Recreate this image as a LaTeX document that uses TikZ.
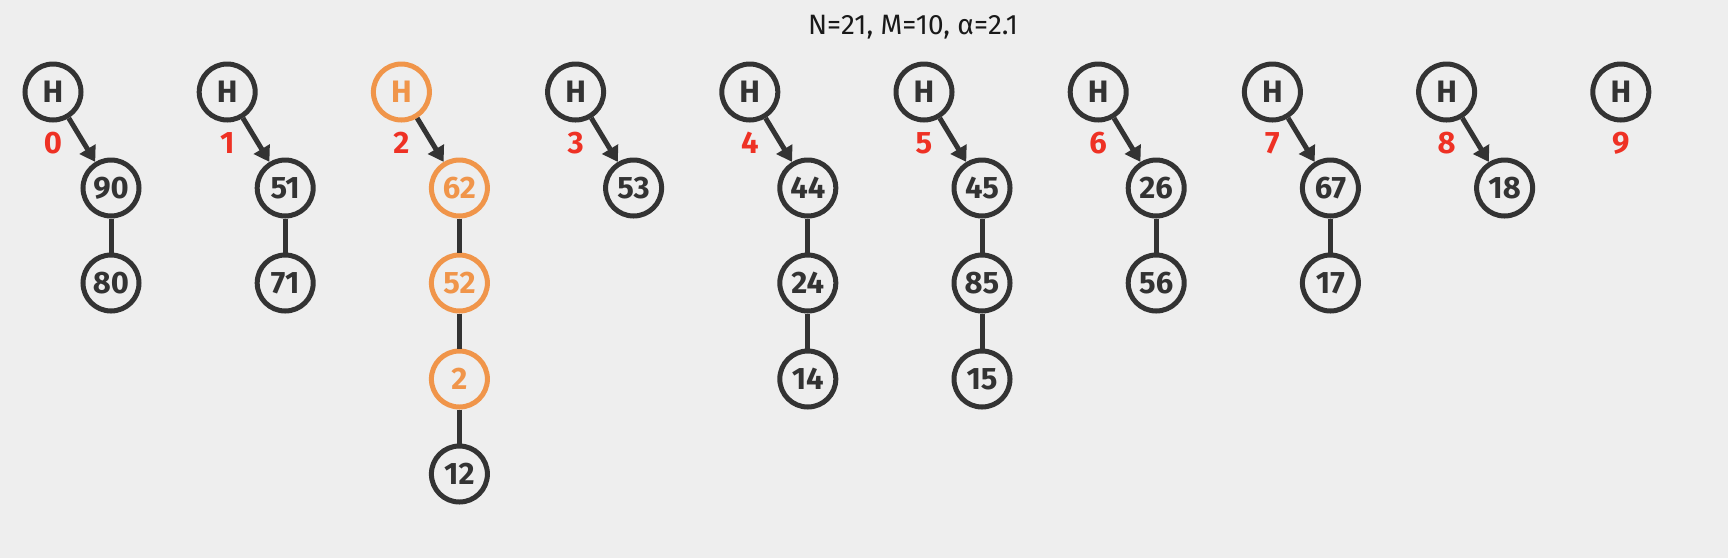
\documentclass[tikz,border=0pt]{standalone}
\usepackage{fontspec}
\setmainfont{Fira Sans}
\usetikzlibrary{positioning, arrows.meta}
\definecolor{ink}{HTML}{333333}
\definecolor{hotc}{HTML}{F0954A}
\definecolor{idxc}{HTML}{EE3124}
\definecolor{bgc}{HTML}{EEEEEE}

\tikzset{
    key/.style={circle, draw=ink, line width=5pt, minimum size=56pt, inner sep=0pt,
        text=ink, font=\fontsize{31}{32}\selectfont\bfseries},
    visited/.style={draw=hotc, text=hotc},
    plain/.style={},
    slot/.style={text=idxc, font=\fontsize{31}{32}\selectfont\bfseries},
    link/.style={draw=ink, line width=5pt},
    ptr/.style={link, -{Triangle[length=15pt, width=18pt]}}
}

\begin{document}
\begin{tikzpicture}[x=1pt, y=-1pt]
    \useasboundingbox[fill=bgc] (0, 0) rectangle (1728, 558);
    \node[font=\fontsize{28}{29}\selectfont, text=black!90] (title) at (913, 27) {N=21, M=10, α=2.1};

    % bucket heads and their indices
    \foreach \i/\look in {0/plain,1/plain,2/visited,3/plain,4/plain,5/plain,6/plain,7/plain,8/plain,9/plain} {
        \node[key, \look] (h\i) at (53 + 174.2*\i, 92) {H};
        \node[slot] (s\i) at (53 + 174.2*\i, 143) {\i};
    }

    % bucket 0
    \node[key] (b0a) at (111, 188) {90};
    \node[key] (b0b) at (111, 283) {80};
    \draw[ptr] (h0) to (b0a);
    \draw[link] (b0a) to (b0b);

    % bucket 1
    \node[key] (b1a) at (285.2, 188) {51};
    \node[key] (b1b) at (285.2, 283) {71};
    \draw[ptr] (h1) to (b1a);
    \draw[link] (b1a) to (b1b);

    % bucket 2
    \node[key, visited] (b2a) at (459.4, 188) {62};
    \node[key, visited] (b2b) at (459.4, 283) {52};
    \node[key, visited] (b2c) at (459.4, 379) {2};
    \node[key] (b2d) at (459.4, 474) {12};
    \draw[ptr] (h2) to (b2a);
    \draw[link] (b2a) to (b2b);
    \draw[link] (b2b) to (b2c);
    \draw[link] (b2c) to (b2d);

    % bucket 3
    \node[key] (b3a) at (633.6, 188) {53};
    \draw[ptr] (h3) to (b3a);

    % bucket 4
    \node[key] (b4a) at (807.8, 188) {44};
    \node[key] (b4b) at (807.8, 283) {24};
    \node[key] (b4c) at (807.8, 379) {14};
    \draw[ptr] (h4) to (b4a);
    \draw[link] (b4a) to (b4b);
    \draw[link] (b4b) to (b4c);

    % bucket 5
    \node[key] (b5a) at (982, 188) {45};
    \node[key] (b5b) at (982, 283) {85};
    \node[key] (b5c) at (982, 379) {15};
    \draw[ptr] (h5) to (b5a);
    \draw[link] (b5a) to (b5b);
    \draw[link] (b5b) to (b5c);

    % bucket 6
    \node[key] (b6a) at (1156.2, 188) {26};
    \node[key] (b6b) at (1156.2, 283) {56};
    \draw[ptr] (h6) to (b6a);
    \draw[link] (b6a) to (b6b);

    % bucket 7
    \node[key] (b7a) at (1330.4, 188) {67};
    \node[key] (b7b) at (1330.4, 283) {17};
    \draw[ptr] (h7) to (b7a);
    \draw[link] (b7a) to (b7b);

    % bucket 8
    \node[key] (b8a) at (1504.6, 188) {18};
    \draw[ptr] (h8) to (b8a);
\end{tikzpicture}
\end{document}
